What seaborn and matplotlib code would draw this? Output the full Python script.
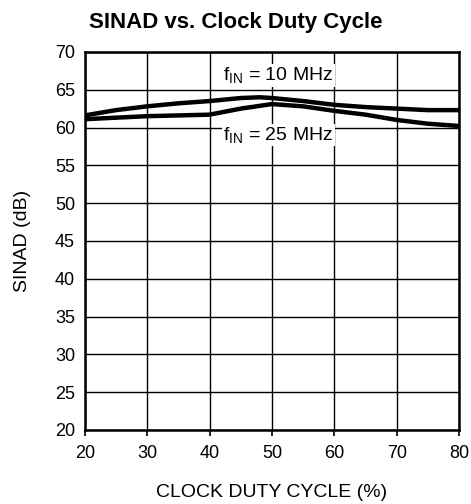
import pandas as pd
import seaborn as sns
import matplotlib.pyplot as plt

# duty cycle (%) and SINAD (dB)
duty_10 = [20, 25, 30, 35, 40, 45, 48, 50, 55, 60, 65, 70, 75, 80]
sinad_10 = [61.6, 62.3, 62.8, 63.2, 63.5, 63.9, 64.0, 63.9, 63.5, 63.0, 62.7, 62.5, 62.3, 62.3]
duty_25 = [20, 25, 30, 35, 40, 45, 50, 55, 60, 65, 70, 75, 80]
sinad_25 = [61.1, 61.3, 61.5, 61.6, 61.7, 62.5, 63.1, 62.8, 62.2, 61.7, 61.0, 60.5, 60.2]

x_ticks = [20, 30, 40, 50, 60, 70, 80]
y_ticks = [20, 25, 30, 35, 40, 45, 50, 55, 60, 65, 70]

data = pd.concat([
    pd.DataFrame({'duty': duty_10, 'sinad': sinad_10, 'fin': '10 MHz'}),
    pd.DataFrame({'duty': duty_25, 'sinad': sinad_25, 'fin': '25 MHz'}),
])

sns.set_style('white')
plt.rcParams['font.family'] = ['Liberation Sans', 'DejaVu Sans']
plt.rcParams['text.color'] = 'black'
plt.rcParams['axes.labelcolor'] = 'black'
plt.rcParams['xtick.color'] = 'black'
plt.rcParams['ytick.color'] = 'black'
plt.rcParams['mathtext.fontset'] = 'custom'
plt.rcParams['mathtext.rm'] = 'Liberation Sans'

fig = plt.figure(figsize=(4.71, 5.04), dpi=100)
ax = fig.add_axes([0.180, 0.147, 0.795, 0.750])

sns.lineplot(data=data, x='duty', y='sinad', hue='fin', palette=['black', 'black'],
             linewidth=3.2, legend=False, ax=ax, zorder=3)

ax.set_xlim(20, 80)
ax.set_ylim(20, 70)
ax.set_xticks(x_ticks)
ax.set_yticks(y_ticks)
ax.grid(True, color='black', linewidth=1)
for s in ax.spines.values():
    s.set_color('black')
    s.set_linewidth(1.8)
ax.tick_params(axis='x', direction='out', length=4, width=1.2, labelsize=13, pad=7, bottom=True)
ax.tick_params(axis='y', length=0, labelsize=13, pad=7)

ax.text(51, 66.9, '$\\mathregular{f_{IN}}$ = 10 MHz', ha='center', va='center', fontsize=14,
        bbox=dict(facecolor='white', edgecolor='none', pad=1), zorder=4)
ax.text(51, 59.0, '$\\mathregular{f_{IN}}$ = 25 MHz', ha='center', va='center', fontsize=14,
        bbox=dict(facecolor='white', edgecolor='none', pad=1), zorder=4)

ax.set_xlabel('CLOCK DUTY CYCLE (%)', fontsize=14, labelpad=16)
ax.set_ylabel('SINAD (dB)', fontsize=14, labelpad=17)
# title is centred on the figure, not on the axes
ax.set_title('SINAD vs. Clock Duty Cycle', fontsize=16, fontweight='bold', pad=17,
             x=(0.5 - 0.180) / 0.795)

fig.savefig('out.png', dpi=100)
